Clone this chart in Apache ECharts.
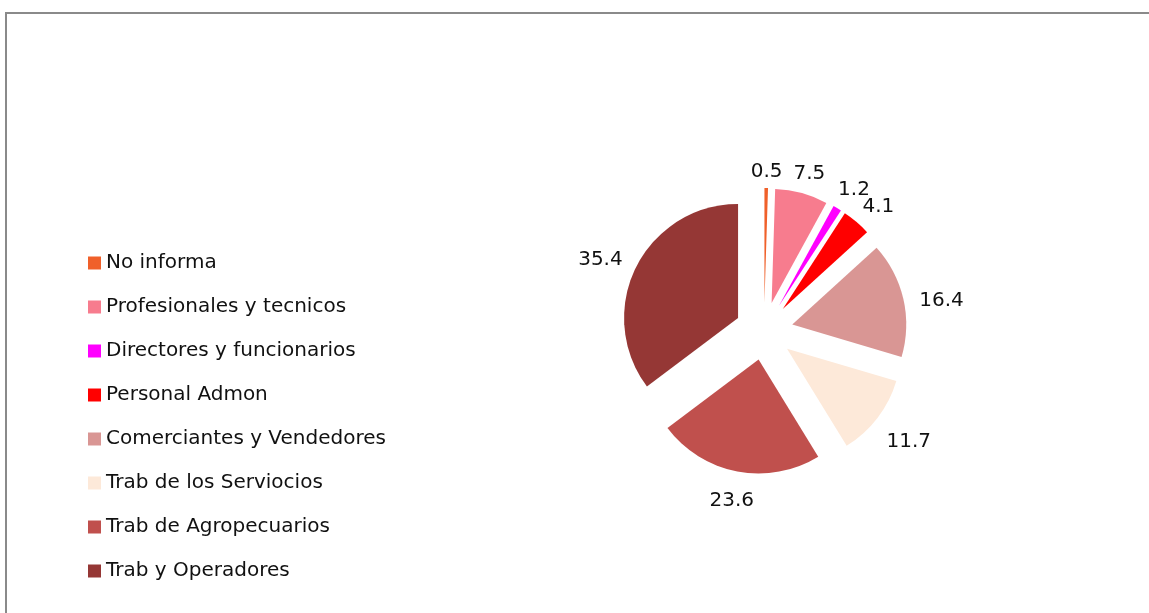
<!DOCTYPE html>
<html>
<head>
<meta charset="utf-8">
<script src="https://cdn.jsdelivr.net/npm/echarts@6/dist/echarts.min.js"></script>
<style>
html,body{margin:0;padding:0;background:#fff;}
#chart{width:1149px;height:613px;}
</style>
</head>
<body>
<div id="chart"></div>
<script>
const categories = ["No informa","Profesionales y tecnicos","Directores y funcionarios","Personal Admon","Comerciantes y Vendedores","Trab de los Serviocios","Trab de Agropecuarios","Trab y Operadores"];
const values = [0.5, 7.5, 1.2, 4.1, 16.4, 11.7, 23.6, 35.4];
const colors = ["#F0602A","#F77C8E","#FF00FF","#FF0000","#D99694","#FDE9D9","#C0504D","#953735"];

const fontFamily = "'DejaVu Sans', 'Liberation Sans', Arial, sans-serif";
const FONT_SIZE = 20;
const LINE_H = 22;
const RADIUS = 114;
const OFFSET = 29;
const GAP = 12;
const UP_BIAS = 10;

const measureCtx = document.createElement('canvas').getContext('2d');
measureCtx.font = FONT_SIZE + 'px ' + fontFamily;

// Each label starts at the slice's inside anchor (half radius on the mid-angle);
// asymmetric padding (rich text honours it on both axes) pushes the text outward
// along the mid-angle so it sits just outside the slice edge, as in the reference.
const total = values.reduce((a, b) => a + b, 0);
let acc = 0;
const pieData = categories.map((name, i) => {
  const start = -Math.PI / 2 + acc / total * Math.PI * 2;
  acc += values[i];
  const end = -Math.PI / 2 + acc / total * Math.PI * 2;
  const mid = (start + end) / 2;
  const dx = Math.cos(mid), dy = Math.sin(mid);
  const w = measureCtx.measureText(String(values[i])).width;
  const h = FONT_SIZE * 1.1;
  const extra = RADIUS / 2 + GAP + Math.abs(dx) * w / 2 + Math.abs(dy) * h / 2;
  const sx = dx * extra;
  const sy = dy * extra + (dy < 0 ? UP_BIAS : 0);
  return {
    name: name,
    value: values[i],
    selected: true,
    label: {
      padding: [Math.max(0, 2 * sy), Math.max(0, -2 * sx), Math.max(0, -2 * sy), Math.max(0, 2 * sx)]
    }
  };
});

const chart = echarts.init(document.getElementById('chart'), null, {renderer:'canvas'});
chart.setOption({
  animation: false,
  color: colors,
  graphic: [{
    type: 'rect',
    shape: {x: 6, y: 13, width: 1300, height: 800},
    style: {fill: 'none', stroke: '#8a8a8a', lineWidth: 2},
    silent: true
  }],
  legend: {
    orient: 'vertical',
    left: 83,
    top: 248,
    itemWidth: 13,
    itemHeight: 13,
    itemGap: 24,
    itemStyle: {borderWidth: 0},
    icon: 'rect',
    selectedMode: false,
    textStyle: {fontFamily: fontFamily, fontSize: FONT_SIZE, color: '#111', lineHeight: 20},
    data: categories
  },
  series: [{
    type: 'pie',
    center: [764, 331],
    radius: [0, RADIUS],
    startAngle: 90,
    clockwise: true,
    selectedMode: 'multiple',
    selectedOffset: OFFSET,
    avoidLabelOverlap: false,
    emphasis: {disabled: true},
    label: {
      show: true,
      position: 'inside',
      formatter: '{v|{c}}',
      fontFamily: fontFamily,
      fontSize: FONT_SIZE,
      lineHeight: LINE_H,
      color: '#111',
      align: 'center',
      verticalAlign: 'middle',
      rich: {
        v: {fontFamily: fontFamily, fontSize: FONT_SIZE, lineHeight: LINE_H, color: '#111'}
      }
    },
    labelLayout: {hideOverlap: false},
    labelLine: {show: false},
    data: pieData
  }]
});
</script>
</body>
</html>
